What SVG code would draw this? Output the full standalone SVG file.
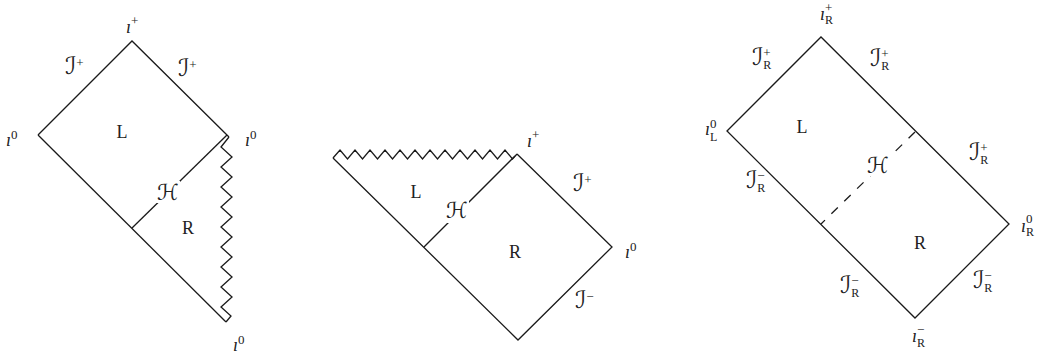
<svg xmlns="http://www.w3.org/2000/svg" width="1040" height="353" viewBox="0 0 1040 353">
<style>
.ln{fill:none;stroke:#1a1a1a;stroke-width:1.3;stroke-linejoin:miter}
.dash{stroke-dasharray:9 9}
.m{font-family:"Liberation Serif",serif;font-style:italic;font-size:18px;fill:#222}
.c{font-family:"DejaVu Serif","DejaVu Sans",serif;font-size:24px;fill:#222}
.h{font-family:"DejaVu Serif","DejaVu Sans",serif;font-size:22px;fill:#222}
.rm{font-family:"Liberation Serif",serif;font-size:18px;fill:#222;text-anchor:middle}
.sp{font-family:"Liberation Serif",serif;font-style:normal;font-size:13px}
.sb{font-family:"Liberation Serif",serif;font-style:normal;font-size:12px}
.bg{fill:#fff}
</style>
<g id="diagram1">
  <g id="d1-connectors">
    <path class="ln" d="M38,135 L132,41 L229,137"/>
    <path class="ln" d="M38,135 L226,322"/>
    <path class="ln" d="M227,135 L132,228"/>
    <path class="ln" d="M229,137 L221,147 L232,157 L221,167 L232,177 L221,187 L232,197 L221,207 L232,217 L221,227 L232,237 L221,247 L232,257 L221,267 L232,277 L221,287 L232,297 L221,307 L231,316 L226,322"/>
  </g>
  <g id="d1-horizon-label"><rect class="bg" x="156" y="181" width="24" height="22"/><text class="h" x="157" y="200">ℋ</text></g>
  <g id="d1-L"><text class="rm" x="122" y="138">L</text></g>
  <g id="d1-R"><text class="rm" x="188" y="234">R</text></g>
  <g id="d1-iplus"><text class="m" x="126" y="33">ı<tspan class="sp" dy="-8">+</tspan></text></g>
  <g id="d1-scriplus-l"><text class="c" x="65" y="74">ℐ<tspan class="sp" dy="-7">+</tspan></text></g>
  <g id="d1-scriplus-r"><text class="c" x="178" y="76">ℐ<tspan class="sp" dy="-7">+</tspan></text></g>
  <g id="d1-i0-l"><text class="m" x="6" y="146">ı<tspan class="sp" dy="-7">0</tspan></text></g>
  <g id="d1-i0-r"><text class="m" x="245" y="146">ı<tspan class="sp" dy="-7">0</tspan></text></g>
  <g id="d1-i0-b"><text class="m" x="233" y="351">ı<tspan class="sp" dy="-7">0</tspan></text></g>
</g>
<g id="diagram2">
  <g id="d2-connectors">
    <path class="ln" d="M333,158 L340,150 L347.5,159 L355,150 L362.5,159 L370,150 L377.5,159 L385,150 L392.5,159 L400,150 L407.5,159 L415,150 L422.5,159 L430,150 L437.5,159 L445,150 L452.5,159 L460,150 L467.5,159 L475,150 L482.5,159 L490,150 L497.5,159 L505,150 L512.5,159 L517,154"/>
    <path class="ln" d="M333,158 L518,340 L612,247 L517,154"/>
    <path class="ln" d="M515,156 L424,247"/>
  </g>
  <g id="d2-horizon-label"><rect class="bg" x="445" y="199" width="24" height="24"/><text class="h" x="446" y="218">ℋ</text></g>
  <g id="d2-L"><text class="rm" x="416" y="198">L</text></g>
  <g id="d2-R"><text class="rm" x="515" y="258">R</text></g>
  <g id="d2-iplus"><text class="m" x="527" y="147">ı<tspan class="sp" dy="-8">+</tspan></text></g>
  <g id="d2-scriplus"><text class="c" x="573" y="191">ℐ<tspan class="sp" dy="-7">+</tspan></text></g>
  <g id="d2-i0"><text class="m" x="625" y="258">ı<tspan class="sp" dy="-7">0</tspan></text></g>
  <g id="d2-scriminus"><text class="c" x="575" y="308">ℐ<tspan class="sp" dy="-7">−</tspan></text></g>
</g>
<g id="diagram3">
  <g id="d3-connectors">
    <path class="ln" d="M727,131 L821,37 L1009,224 L915,318 Z"/>
    <path class="ln dash" d="M915,132 L821,224"/>
  </g>
  <g id="d3-horizon-label"><rect class="bg" x="866" y="154" width="24" height="22"/><text class="h" x="867" y="173">ℋ</text></g>
  <g id="d3-L"><text class="rm" x="802" y="133">L</text></g>
  <g id="d3-R"><text class="rm" x="920" y="249">R</text></g>
  <g id="d3-iRplus"><text class="m" x="820" y="20">ı<tspan class="sp" dy="-8">+</tspan><tspan class="sb" dx="-7.3" dy="12">R</tspan></text></g>
  <g id="d3-sRplus-l"><text class="c" x="752" y="65">ℐ<tspan class="sp" dy="-8">+</tspan><tspan class="sb" dx="-7.3" dy="12">R</tspan></text></g>
  <g id="d3-sRplus-r"><text class="c" x="870" y="66">ℐ<tspan class="sp" dy="-8">+</tspan><tspan class="sb" dx="-7.3" dy="12">R</tspan></text></g>
  <g id="d3-iL0"><text class="m" x="705" y="135">ı<tspan class="sp" dy="-7">0</tspan><tspan class="sb" dx="-6.5" dy="13">L</tspan></text></g>
  <g id="d3-sRplus-lr"><text class="c" x="969" y="160">ℐ<tspan class="sp" dy="-8">+</tspan><tspan class="sb" dx="-7.3" dy="12">R</tspan></text></g>
  <g id="d3-sRminus-ul"><text class="c" x="746" y="188">ℐ<tspan class="sp" dy="-8">−</tspan><tspan class="sb" dx="-7.3" dy="12">R</tspan></text></g>
  <g id="d3-iR0"><text class="m" x="1021" y="232">ı<tspan class="sp" dy="-9">0</tspan><tspan class="sb" dx="-6.5" dy="13">R</tspan></text></g>
  <g id="d3-sRminus-ll"><text class="c" x="840" y="293">ℐ<tspan class="sp" dy="-8">−</tspan><tspan class="sb" dx="-7.3" dy="12">R</tspan></text></g>
  <g id="d3-sRminus-lr"><text class="c" x="973" y="288">ℐ<tspan class="sp" dy="-8">−</tspan><tspan class="sb" dx="-7.3" dy="12">R</tspan></text></g>
  <g id="d3-iRminus"><text class="m" x="912" y="342">ı<tspan class="sp" dy="-8">−</tspan><tspan class="sb" dx="-7.3" dy="13">R</tspan></text></g>
</g>
</svg>
